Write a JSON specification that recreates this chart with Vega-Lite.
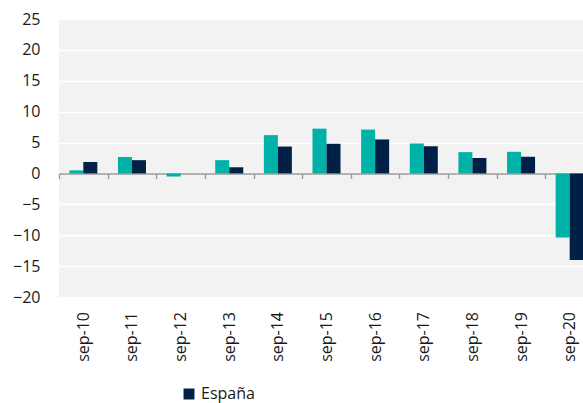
{
  "$schema": "https://vega.github.io/schema/vega-lite/v6.json",
  "autosize": {"type": "none"},
  "padding": {"left": 59, "top": 19, "right": 0, "bottom": 106},
  "width": 524,
  "height": 278,
  "background": "white",
  "config": {
    "view": {"fill": "#f2f2f2", "stroke": null},
    "font": "Open Sans"
  },
  "data": {
    "values": [
      {"fecha": "sep-10", "serie": "Región", "valor": 0.5},
      {"fecha": "sep-10", "serie": "España", "valor": 1.85},
      {"fecha": "sep-11", "serie": "Región", "valor": 2.65},
      {"fecha": "sep-11", "serie": "España", "valor": 2.15},
      {"fecha": "sep-12", "serie": "Región", "valor": -0.5},
      {"fecha": "sep-12", "serie": "España", "valor": 0.0},
      {"fecha": "sep-13", "serie": "Región", "valor": 2.15},
      {"fecha": "sep-13", "serie": "España", "valor": 1.0},
      {"fecha": "sep-14", "serie": "Región", "valor": 6.2},
      {"fecha": "sep-14", "serie": "España", "valor": 4.35},
      {"fecha": "sep-15", "serie": "Región", "valor": 7.25},
      {"fecha": "sep-15", "serie": "España", "valor": 4.8},
      {"fecha": "sep-16", "serie": "Región", "valor": 7.1},
      {"fecha": "sep-16", "serie": "España", "valor": 5.5},
      {"fecha": "sep-17", "serie": "Región", "valor": 4.85},
      {"fecha": "sep-17", "serie": "España", "valor": 4.4},
      {"fecha": "sep-18", "serie": "Región", "valor": 3.45},
      {"fecha": "sep-18", "serie": "España", "valor": 2.5},
      {"fecha": "sep-19", "serie": "Región", "valor": 3.5},
      {"fecha": "sep-19", "serie": "España", "valor": 2.7},
      {"fecha": "sep-20", "serie": "Región", "valor": -10.35},
      {"fecha": "sep-20", "serie": "España", "valor": -14.0}
    ]
  },
  "mark": {"type": "bar", "stroke": null},
  "encoding": {
    "x": {
      "field": "fecha",
      "type": "nominal",
      "sort": null,
      "scale": {"range": [0, 535], "paddingInner": 0, "paddingOuter": 0},
      "axis": {
        "title": null,
        "offset": -123.5,
        "tickBand": "extent",
        "domainColor": "#9a9a9a",
        "domainWidth": 1.6,
        "tickColor": "#9a9a9a",
        "tickWidth": 1.4,
        "tickSize": 5,
        "labelAngle": -90,
        "labelAlign": "right",
        "labelBaseline": "middle",
        "labelPadding": 133,
        "labelFontSize": 16,
        "labelColor": "#1a1a1a",
        "grid": false
      }
    },
    "xOffset": {
      "field": "serie",
      "type": "nominal",
      "sort": ["Región", "España"],
      "scale": {"paddingInner": 0, "paddingOuter": 0.736}
    },
    "y": {
      "field": "valor",
      "type": "quantitative",
      "scale": {"domain": [-20, 25], "nice": false, "zero": false},
      "axis": {
        "title": null,
        "values": [-20, -15, -10, -5, 0, 5, 10, 15, 20, 25],
        "domain": false,
        "ticks": false,
        "labelPadding": 19,
        "labelFontSize": 16,
        "labelColor": "#1a1a1a",
        "gridColor": "white",
        "gridWidth": 1.5
      }
    },
    "color": {
      "field": "serie",
      "type": "nominal",
      "sort": ["Región", "España"],
      "scale": {"domain": ["Región", "España"], "range": ["#00b1a8", "#002145"]},
      "legend": {
        "values": ["España"],
        "title": null,
        "orient": "none",
        "legendX": 122,
        "legendY": 367,
        "symbolType": "square",
        "symbolSize": 120,
        "symbolStrokeWidth": 0,
        "labelFontSize": 16,
        "labelColor": "#1a1a1a",
        "labelOffset": 4
      }
    }
  }
}
